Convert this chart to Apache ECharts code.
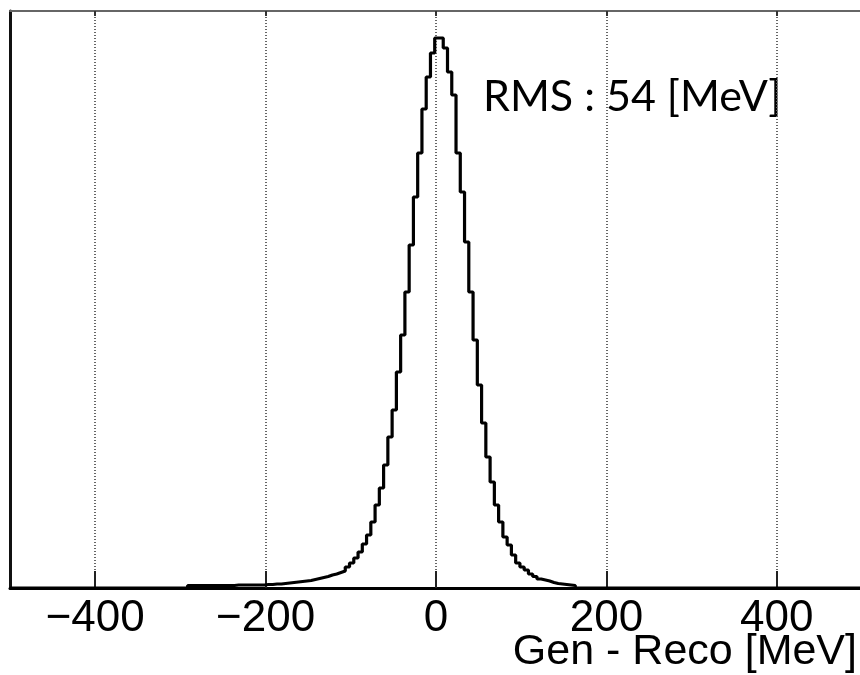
<!DOCTYPE html>
<html><head><meta charset="utf-8">
<script src="https://cdn.jsdelivr.net/npm/echarts@6/dist/echarts.min.js"></script>
<style>html,body{margin:0;padding:0;background:#fff}#c{width:860px;height:675px}</style>
</head><body><div id="c"></div>
<script>
// Histogram of Gen - Reco [MeV], 5 MeV bins, first bin starts at -291.5
const binStart = -291.5;
const binWidth = 5;
const counts = [
  2.5, 2.5, 2.5, 2.5, 2.5, 2.5, 2.5, 2.5, 2.5, 2.5,
  2.5, 3, 3, 3, 3, 3, 3, 3, 3.5, 3.5,
  4, 4, 4.5, 5, 5.5, 6, 6.5, 7, 7.5, 8.5,
  9.5, 10.5, 11.5, 13, 14, 15.5, 17, 21, 25, 30,
  36, 44, 53, 66, 83, 100, 123, 151, 178, 216,
  253, 296, 343, 391, 435, 479, 511, 535,
  550, 550, 540, 516, 493, 435, 396, 346, 296, 248,
  203, 165, 131, 106, 83, 66, 51, 43, 33, 25,
  21, 18, 14, 11.5, 9, 8, 7, 5.5, 4.5, 4,
  3.5, 3, 2.5
];
const xMin = -500, xMax = 500;
const xTicks = [-400, -200, 0, 200, 400];
const xLabel = 'Gen - Reco [MeV]';
const annotation = 'RMS : 54 [MeV]';
const yMax = 577;

const pts = [[xMin, 0]];
counts.forEach((c, i) => pts.push([binStart + i * binWidth, c]));
pts.push([binStart + counts.length * binWidth, 0]);
pts.push([xMax, 0]);

const chart = echarts.init(document.getElementById('c'), null, {renderer: 'canvas'});
chart.setOption({
  animation: false,
  backgroundColor: '#fff',
  grid: {left: 10, top: 11, width: 852, height: 577, containLabel: false, outerBoundsMode: 'none'},
  xAxis: [{
    type: 'value', min: xMin, max: xMax, position: 'bottom',
    axisLine: {show: true, onZero: false, lineStyle: {color: '#000', width: 3}},
    axisTick: {show: true, inside: true, length: 17, customValues: xTicks, lineStyle: {color: '#222', width: 2}},
    axisLabel: {show: true, customValues: xTicks, margin: 9, fontSize: 44, fontFamily: 'Liberation Sans', color: '#000',
      formatter: v => v < 0 ? '\u2212' + Math.abs(v) : String(v)},
    splitLine: {show: true, lineStyle: {color: '#666', width: 2, type: [1, 2]}}
  }, {
    type: 'value', min: xMin, max: xMax, position: 'top',
    axisLine: {show: true, onZero: false, lineStyle: {color: '#666', width: 2}},
    axisTick: {show: true, inside: true, length: 5, customValues: xTicks, lineStyle: {color: '#333', width: 2}},
    axisLabel: {show: false},
    splitLine: {show: false}
  }],
  yAxis: {
    type: 'value', min: 0, max: yMax,
    axisLine: {show: true, onZero: false, lineStyle: {color: '#111', width: 3}},
    axisTick: {show: false}, axisLabel: {show: false}, splitLine: {show: false}
  },
  series: [{
    type: 'line', data: pts, step: 'end', showSymbol: false, symbol: 'none',
    lineStyle: {color: '#000', width: 3.2}, z: 5
  }],
  graphic: [{
    type: 'text', left: 483, top: 76,
    style: {text: annotation, font: '43px Lato', fill: '#000'}
  }, {
    type: 'text', right: 3, top: 631,
    style: {text: xLabel, font: '43px "Liberation Sans"', fill: '#000'}
  }]
});
</script></body></html>
